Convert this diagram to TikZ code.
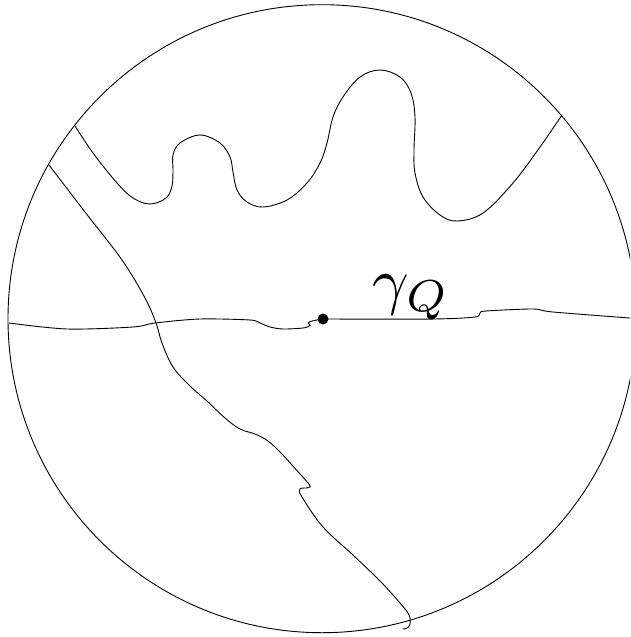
\documentclass[tikz,border=0pt]{standalone}
\begin{document}
\begin{tikzpicture}[x=1pt,y=-1pt,line width=0.9pt,
  curve/.style={line join=round,line cap=round}]
\useasboundingbox (0,0) rectangle (630,637);
\clip (0,0) rectangle (630,637);
% disc
\coordinate (c) at (322,318.7);
\draw (c) circle[radius=314];
% upper wavy curve
\draw[curve] plot[smooth,tension=0.6] coordinates {
(75,126) (93,153) (117,183) (133,198) (150,204) (166,198) (172,186) (173,170) (173,155) (180,143) (200,135) (220,143) (230,157) (233,172) (237,190) (247,202) (263,207) (287,200) (307,183) (320,163) (327,143) (333,117) (343,97) (360,77) (380,70) (400,77) (411,93) (415,117) (414,150) (415,173) (423,197) (440,215) (457,221) (483,213) (513,183) (540,147) (562,115)};
% left diagonal curve
\draw[curve] plot[smooth,tension=0.6] coordinates {
(49,165) (85,212) (122,260) (145,298) (156,323) (162,343) (173,367) (190,386) (207,401) (225,418) (240,429) (255,434) (268,441) (280,452) (292,465) (308,483) (310,487) (306,488) (300,489) (302,497) (323,527) (353,555) (380,581) (400,603) (409,615) (410,624) (407,628) (403,629)};
% horizontal curve
\draw[curve] plot[smooth,tension=0.5] coordinates {
(9,323) (67,329) (133,327) (155,323) (200,319) (250,320) (260,323) (270,327) (283,329) (303,328) (310,325.5) (308,323) (312,321) (317,320) (323,319)};
\draw[curve] plot[smooth,tension=0.5] coordinates {
(323,319) (433,319) (475,317) (480,313) (486,311) (533,309) (553,312) (636,318.5)};
\node[circle,fill,inner sep=0pt,minimum size=11pt] (q) at (323,319) {};
\node[anchor=base west,inner sep=0pt,scale=6.4] (lab) at (370,302) {$\gamma_Q$};
\end{tikzpicture}
\end{document}
